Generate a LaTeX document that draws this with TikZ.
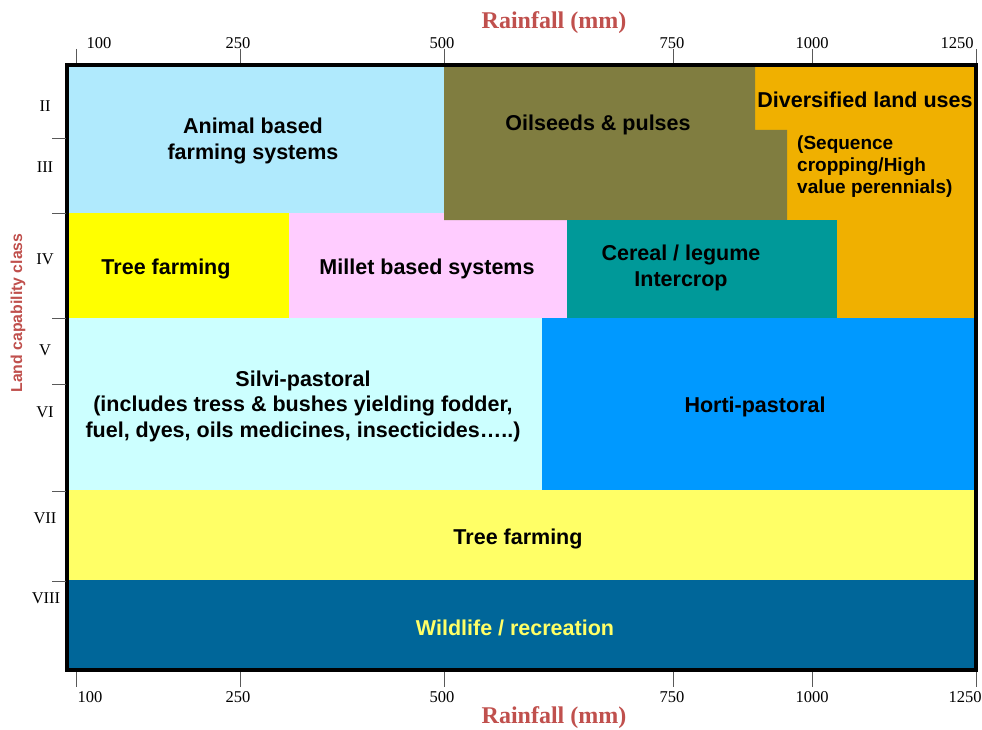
\documentclass[tikz,border=0pt]{standalone}
\usepackage{fontspec}
\setmainfont{Liberation Serif}
\setsansfont{Liberation Sans}
\definecolor{cLightBlue}{HTML}{B0EAFD}
\definecolor{cOlive}{HTML}{807D40}
\definecolor{cOrange}{HTML}{F0B000}
\definecolor{cYellow}{HTML}{FFFF00}
\definecolor{cPink}{HTML}{FFCCFF}
\definecolor{cTeal}{HTML}{009999}
\definecolor{cCyan}{HTML}{CCFFFF}
\definecolor{cBlue}{HTML}{0099FF}
\definecolor{cLYellow}{HTML}{FFFF66}
\definecolor{cDark}{HTML}{006699}
\definecolor{titlered}{HTML}{C0504D}
\begin{document}
\begin{tikzpicture}[x=1pt,y=-1pt,
  lab/.style={font=\sffamily\bfseries\fontsize{21.5}{25.5}\selectfont, align=center, inner sep=0pt},
  small/.style={font=\sffamily\bfseries\fontsize{19}{22}\selectfont, align=left, inner sep=0pt},
  num/.style={font=\fontsize{16.5}{17}\selectfont, inner sep=0pt},
  tickln/.style={line width=1pt, draw=black!65},
  ttl/.style={font=\bfseries\fontsize{24}{24}\selectfont, text=titlered, inner sep=0pt},
  ylab/.style={font=\sffamily\bfseries\fontsize{15.8}{16}\selectfont, text=titlered, inner sep=0pt, rotate=90}]
\useasboundingbox (0,0) rectangle (982,730);
\fill[white] (0,0) rectangle (982,730);

% regions
\fill[cLightBlue] (67,65) rectangle (444,213);
\fill[cPink] (289,213) rectangle (567,318);
\fill[cYellow] (67,213) rectangle (289,318);
\fill[cOrange] (755,65) rectangle (976,318);
\fill[cOlive] (444,65) -- (755,65) -- (755,130) -- (787,130) -- (787,220) -- (444,220) -- cycle;
\fill[cTeal] (567,220) rectangle (837,318);
\fill[cCyan] (67,318) rectangle (542,490);
\fill[cBlue] (542,318) rectangle (976,490);
\fill[cLYellow] (67,490) rectangle (976,580);
\fill[cDark] (67,580) rectangle (976,670);
\draw[line width=4pt] (67,65) rectangle (976,670);

% region labels
\node[lab] (animal) at (253,141) {Animal based\\farming systems};
\node[lab] (oil) at (598,125) {Oilseeds \& pulses};
\node[lab] (div) at (865,100) {Diversified land uses};
\node[small, anchor=west] (seq) at (797,167) {(Sequence\\cropping/High\\value perennials)};
\node[lab] (tree1) at (166,269) {Tree farming};
\node[lab] (millet) at (427,269) {Millet based systems};
\node[lab] (cereal) at (681,268) {Cereal / legume\\Intercrop};
\node[lab] (silvi) at (303,406) {Silvi-pastoral\\(includes tress \& bushes yielding fodder,\\fuel, dyes, oils medicines, insecticides…..)};
\node[lab] (horti) at (755,407) {Horti-pastoral};
\node[lab] (tree2) at (518,539) {Tree farming};
\node[lab, text=cLYellow] (wild) at (515,628) {Wildlife / recreation};

% top axis
\foreach \x in {76,240,444,673,812,976} \draw[tickln] (\x,49) -- (\x,63);
\node[num] (t100) at (99,43) {100};
\node[num] (t250) at (238,43) {250};
\node[num] (t500) at (442,43) {500};
\node[num] (t750) at (672,43) {750};
\node[num] (t1000) at (812,43) {1000};
\node[num] (t1250) at (957,43) {1250};
% bottom axis
\foreach \x in {76,240,444,673,812,976} \draw[tickln] (\x,672) -- (\x,687);
\node[num] (b100) at (90,697) {100};
\node[num] (b250) at (238,697) {250};
\node[num] (b500) at (442,697) {500};
\node[num] (b750) at (672,697) {750};
\node[num] (b1000) at (812,697) {1000};
\node[num] (b1250) at (965,697) {1250};
% left axis
\foreach \y in {139,213,318,384,491,581} \draw[tickln] (52,\y) -- (66,\y);
\node[num] (c2) at (45,106) {II};
\node[num] (c3) at (45,167) {III};
\node[num] (c4) at (45,259) {IV};
\node[num] (c5) at (45,350) {V};
\node[num] (c6) at (45,412) {VI};
\node[num] (c7) at (45,518) {VII};
\node[num] (c8) at (46,598) {VIII};

% titles
\node[ttl] (toptitle) at (554,23) {Rainfall (mm)};
\node[ttl] (bottitle) at (554,718) {Rainfall (mm)};
\node[ylab] (lcc) at (18,313) {Land capability class};
\end{tikzpicture}
\end{document}
